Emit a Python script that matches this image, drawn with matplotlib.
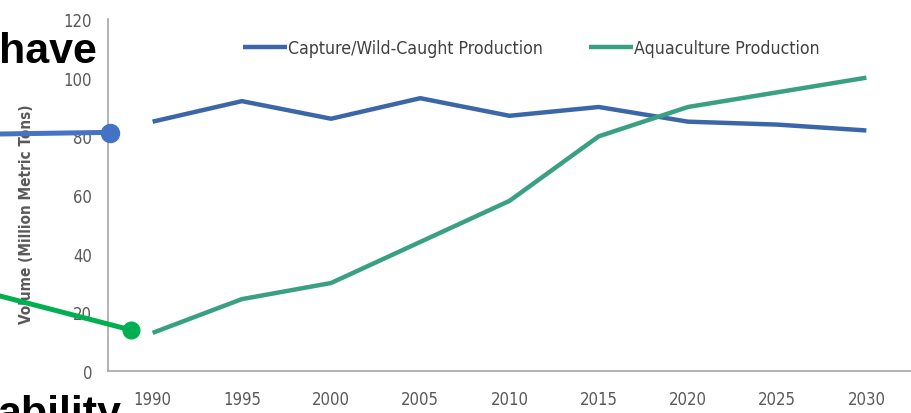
import matplotlib
matplotlib.use("Agg")
import matplotlib.pyplot as plt
from matplotlib.lines import Line2D

# Global fish production, capture vs aquaculture
years = [1990, 1995, 2000, 2005, 2010, 2015, 2020, 2025, 2030]
capture = [85, 92, 86, 93, 87, 90, 85, 84, 82]
aquaculture = [13, 24.5, 30, 44, 58, 80, 90, 95, 100]
yticks = [0, 20, 40, 60, 80, 100, 120]

plt.rcParams['font.family'] = ['DejaVu Sans']
plt.rcParams['font.stretch'] = 'condensed'

W, H = 912, 414
fig = plt.figure(figsize=(W / 100, H / 100), dpi=100)
fig.patch.set_facecolor('white')

def fx(px):
    return px / W

def fy(py):
    return 1 - py / H

ax = fig.add_axes([fx(108), fy(372), fx(911) - fx(108), fy(20) - fy(372)])
pos = list(range(len(years)))
ax.plot(pos, capture, color='#3b67a8', lw=3.2, solid_capstyle='butt',
        label='Capture/Wild-Caught Production')
ax.plot(pos, aquaculture, color='#3aa083', lw=3.2, solid_capstyle='butt',
        label='Aquaculture Production')

ax.set_xlim(-0.5, len(years) - 0.5)
ax.set_ylim(0, 120)
ax.set_xticks(pos)
ax.set_xticklabels([str(y) for y in years])
ax.set_yticks(yticks)
ax.tick_params(length=0, labelsize=12, colors='#595959')
ax.tick_params(axis='y', pad=11.5)
ax.tick_params(axis='x', pad=13.5)
for s in ['top', 'right']:
    ax.spines[s].set_visible(False)
for s in ['left', 'bottom']:
    ax.spines[s].set_color('#a6a6a6')
    ax.spines[s].set_linewidth(1.2)

ax.set_ylabel('Volume (Million Metric Tons)', fontsize=11, fontweight='bold',
              color='#595959')
ax.yaxis.set_label_coords(fx(34), fy(214), transform=fig.transFigure)

ax.legend(loc='center', bbox_to_anchor=(fx(531), fy(49)),
          bbox_transform=fig.transFigure, ncol=2, frameon=False,
          fontsize=12.7, handlelength=2.5, handletextpad=0.05,
          columnspacing=2.6, labelcolor='#404040')

# slide overlay: words and pointer markers around the chart
fig.text(fx(97), fy(63), 'have', ha='right', va='baseline', fontsize=31,
         fontweight='bold', family=['Liberation Sans', 'DejaVu Sans'],
         fontstretch='normal')
fig.text(fx(122), fy(426), 'ability', ha='right', va='baseline', fontsize=31,
         fontweight='bold', family=['Liberation Sans', 'DejaVu Sans'],
         fontstretch='normal')

fig.add_artist(Line2D([fx(0), fx(100)], [fy(135), fy(133.5)],
                      transform=fig.transFigure, color='#4472c4', lw=3.6))
fig.add_artist(Line2D([fx(110)], [fy(134)], transform=fig.transFigure,
                      marker='o', ms=13, color='#4472c4', lw=0))
fig.add_artist(Line2D([fx(0), fx(131)], [fy(297), fy(331)],
                      transform=fig.transFigure, color='#00b050', lw=3.6))
fig.add_artist(Line2D([fx(131)], [fy(331)], transform=fig.transFigure,
                      marker='o', ms=12, color='#00b050', lw=0))

fig.savefig('out.png', dpi=100)
